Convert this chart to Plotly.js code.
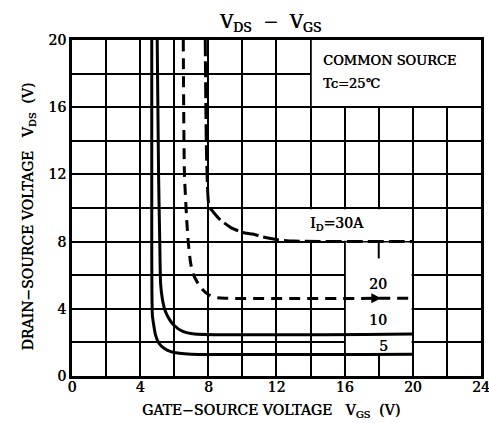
<!DOCTYPE html>
<html>
<head>
<meta charset="utf-8">
<script src="https://cdn.plot.ly/plotly-3.0.1.min.js"></script>
<style>html,body{margin:0;padding:0;background:#fff;}#chart{width:489px;height:423px;}</style>
</head>
<body>
<div id="chart"></div>
<script>
// Curve data: V_GS (x) vs V_DS (y) for each drain current
const vgs5  = [4.68, 4.68, 4.69, 4.72, 4.8, 4.9, 5.1, 5.4, 5.8, 6.3, 7.0, 20];
const vds5  = [20, 8, 5, 3.6, 3.0, 2.45, 1.95, 1.65, 1.45, 1.35, 1.3, 1.3];
const vgs10 = [5.0, 5.08, 5.15, 5.2, 5.3, 5.46, 5.7, 5.95, 6.5, 7.2, 20];
const vds10 = [20, 12, 8, 5.5, 4.6, 3.9, 3.4, 3.05, 2.65, 2.5, 2.5];
const vgs20 = [6.53, 6.6, 6.75, 6.83, 6.95, 7.1, 7.4, 7.7, 8.0, 8.4, 9.0, 20];
const vds20 = [20, 12, 9, 7.9, 6.8, 6.1, 5.5, 5.1, 4.85, 4.68, 4.63, 4.63];
const vgs30 = [7.82, 7.9, 8.05, 8.3, 8.7, 9.3, 10.0, 10.6, 11.2, 12.0, 13.0, 20];
const vds30 = [20, 13, 10.1, 9.75, 9.3, 8.85, 8.55, 8.45, 8.28, 8.12, 8.03, 8.0];

const currentLabels = ["I<sub>D</sub>=30A", "20", "10", "5"];
const xTicks = [0, 4, 8, 12, 16, 20, 24];
const yTicks = [0, 4, 8, 12, 16, 20];

const FONT = "DejaVu Serif, Liberation Serif, serif";
const SH = "0.5px 0 0 #000";
function f(size) { return {family: FONT, size: size, color: "#000", shadow: SH}; }

const lineSolid = {color: "#000", width: 3, shape: "spline", smoothing: 0.6};
const traces = [
  {x: vgs5, y: vds5, mode: "lines", line: Object.assign({}, lineSolid), hoverinfo: "skip"},
  {x: vgs10, y: vds10, mode: "lines", line: Object.assign({}, lineSolid), hoverinfo: "skip"},
  {x: vgs20, y: vds20, mode: "lines", line: Object.assign({}, lineSolid, {dash: "11px,7px"}), hoverinfo: "skip"},
  {x: vgs30, y: vds30, mode: "lines", line: Object.assign({}, lineSolid, {dash: "16px,5px"}), hoverinfo: "skip"}
];

const axisCommon = {
  showgrid: true, gridcolor: "#000", gridwidth: 2,
  showline: true, linecolor: "#000", linewidth: 3, mirror: true,
  zeroline: false, ticks: "", fixedrange: true, ticklabeloverflow: "allow",
  tickfont: f(14)
};

const layout = {
  width: 489, height: 423,
  margin: {l: 72, r: 8, t: 40, b: 47},
  paper_bgcolor: "#fff", plot_bgcolor: "#fff",
  showlegend: false,
  xaxis: Object.assign({}, axisCommon, {
    range: [0, 24.001], tickvals: xTicks, ticktext: xTicks.map(String), ticklabelstandoff: -4,
    minor: {dtick: 2, showgrid: true, gridcolor: "#000", gridwidth: 2}
  }),
  yaxis: Object.assign({}, axisCommon, {
    range: [0, 20.001], tickvals: yTicks, ticktext: yTicks.map(String),
    minor: {dtick: 2, showgrid: true, gridcolor: "#000", gridwidth: 2}
  }),
  shapes: [
    {type: "rect", layer: "between", xref: "x", yref: "y", x0: 14.07, x1: 24, y0: 16.07, y1: 20, fillcolor: "#fff", line: {width: 0}},
    {type: "rect", layer: "between", xref: "x", yref: "y", x0: 12.07, x1: 19.93, y0: 8.05, y1: 9.93, fillcolor: "#fff", line: {width: 0}},
    {type: "rect", layer: "between", xref: "x", yref: "y", x0: 16.07, x1: 19.93, y0: 1.3, y1: 7.95, fillcolor: "#fff", line: {width: 0}},
    {type: "line", layer: "between", xref: "x", yref: "y", x0: 18, x1: 18, y0: 8, y1: 7.0, line: {color: "#000", width: 2}}
  ],
  annotations: [
    {xref: "paper", yref: "paper", x: 0.484, y: 1.05, xanchor: "center", yanchor: "middle", showarrow: false,
     text: "V<sub>DS</sub>  −  V<sub>GS</sub>", font: f(18)},
    {xref: "paper", yref: "paper", x: -0.105, y: 0.475, xanchor: "center", yanchor: "middle", showarrow: false, textangle: -90,
     text: "DRAIN−SOURCE VOLTAGE   V<sub>DS</sub>  (V)", font: f(14)},
    {xref: "paper", yref: "paper", x: 0.487, y: -0.103, xanchor: "center", yanchor: "middle", showarrow: false,
     text: "GATE−SOURCE VOLTAGE   V<sub>GS</sub>  (V)", font: f(14)},
    {xref: "x", yref: "y", x: 14.6, y: 18.8, xanchor: "left", yanchor: "middle", showarrow: false,
     text: "COMMON SOURCE", font: f(13)},
    {xref: "x", yref: "y", x: 14.6, y: 17.4, xanchor: "left", yanchor: "middle", showarrow: false,
     text: "Tc=25℃", font: f(13)},
    {xref: "x", yref: "y", x: 15.55, y: 9.05, xanchor: "center", yanchor: "middle", showarrow: false,
     text: currentLabels[0], font: f(14)},
    {xref: "x", yref: "y", x: 17.95, y: 5.45, xanchor: "center", yanchor: "middle", showarrow: false,
     text: currentLabels[1], font: f(14)},
    {xref: "x", yref: "y", x: 17.95, y: 3.35, xanchor: "center", yanchor: "middle", showarrow: false,
     text: currentLabels[2], font: f(14)},
    {xref: "x", yref: "y", x: 18.25, y: 1.8, xanchor: "center", yanchor: "middle", showarrow: false,
     text: currentLabels[3], font: f(14)},
    {xref: "x", yref: "y", axref: "x", ayref: "y", x: 18.15, y: 4.63, ax: 17.3, ay: 4.63, text: "",
     showarrow: true, arrowhead: 2, arrowsize: 1, arrowwidth: 2, arrowcolor: "#000"}
  ]
};

Plotly.newPlot("chart", traces, layout, {displayModeBar: false, staticPlot: true});
</script>
</body>
</html>
